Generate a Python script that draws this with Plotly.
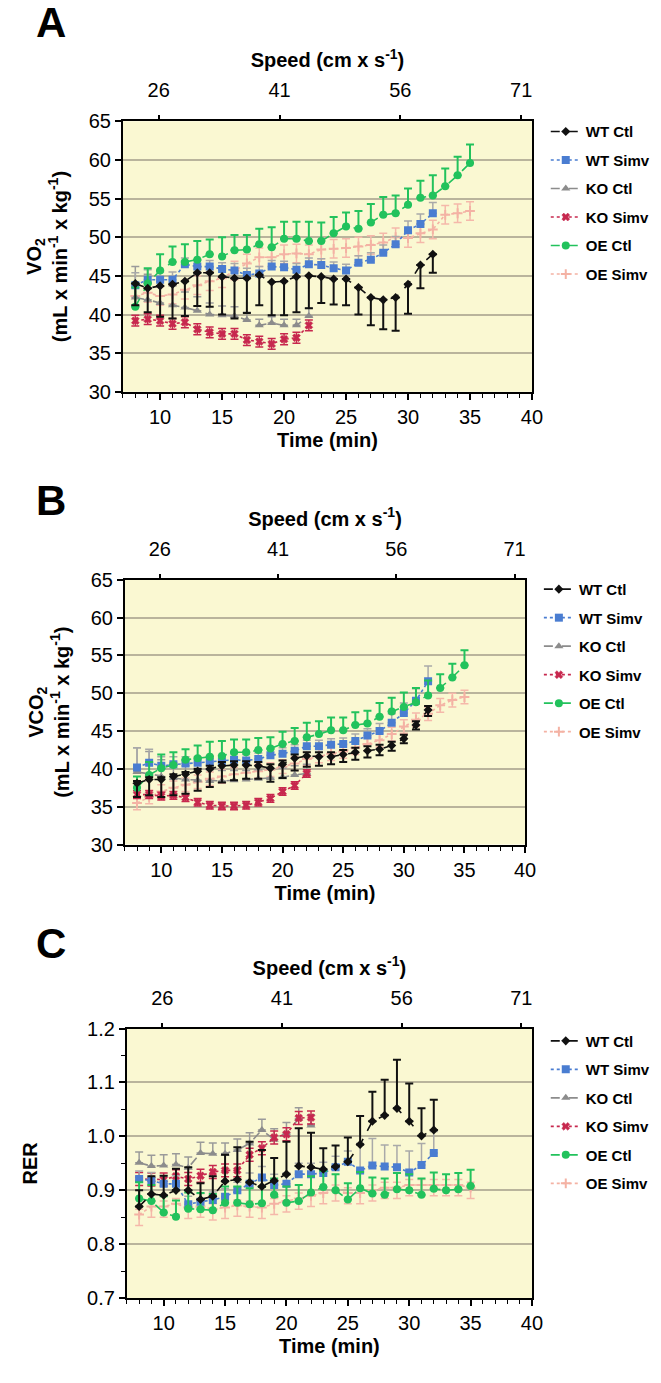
import plotly.graph_objects as go

# ---------------- data ----------------
T_WT = list(range(8, 33))      # WT Ctl / WT Simv : 8..32 min
T_KO = list(range(8, 23))      # KO Ctl / KO Simv : 8..22 min
T_OE = list(range(8, 36))      # OE Ctl / OE Simv : 8..35 min

TIME_TICKS = [10, 15, 20, 25, 30, 35, 40]
SPEED_TICKS = [26, 41, 56, 71]
SERIES = ["WT Ctl", "WT Simv", "KO Ctl", "KO Simv", "OE Ctl", "OE Simv"]

# Panel A : VO2
WT_CTL_A = [44.0, 43.4, 43.7, 43.9, 44.3, 45.4, 45.4, 44.9, 44.7, 44.7, 45.1, 44.2, 44.3, 44.9, 45.0,
            44.9, 44.6, 44.6, 43.5, 42.2, 41.9, 42.2, 43.9, 46.4, 47.8]
WT_CTL_A_LO = [2.8, 3.1, 4.0, 4.4, 4.5, 4.3, 4.4, 4.9, 5.2, 4.5, 3.9, 4.3, 4.4, 4.6, 4.2,
               3.4, 3.3, 3.4, 3.5, 3.6, 3.8, 4.3, 3.8, 3.0, 2.4]
WT_SIMV_A = [43.8, 44.5, 44.5, 44.5, 46.5, 46.2, 46.2, 45.9, 45.7, 45.1, 45.3, 46.2, 46.1, 45.8, 46.5,
             46.4, 46.0, 45.7, 46.7, 47.1, 48.0, 49.1, 50.9, 51.7, 53.1]
WT_SIMV_A_HI = [1.6, 1.3, 1.0, 1.0, 0.8, 0.8, 0.8, 0.8, 0.9, 0.9, 0.9, 0.8, 0.8, 0.8, 0.8,
                0.8, 0.8, 0.8, 0.9, 0.9, 1.0, 1.0, 1.2, 1.3, 1.4]
KO_CTL_A = [42.2, 41.9, 41.5, 41.2, 40.9, 40.5, 40.0, 39.9, 39.8, 39.3, 38.6, 38.9, 38.6, 38.6, 39.8]
KO_CTL_A_HI = [4.0, 3.3, 2.8, 2.5, 2.0, 1.8, 1.5, 1.2, 1.2, 1.0, 0.8, 0.8, 0.8, 0.8, 1.0]
KO_SIMV_A = [39.2, 39.4, 39.2, 38.8, 39.0, 38.1, 37.7, 37.5, 37.5, 36.7, 36.5, 36.2, 36.8, 37.0, 38.6]
KO_SIMV_A_ERR = [0.7, 0.7, 0.7, 0.7, 0.7, 0.7, 0.7, 0.7, 0.7, 0.7, 0.7, 0.7, 0.7, 0.7, 0.7]
OE_CTL_A = [41.0, 44.0, 45.7, 46.8, 46.8, 47.1, 47.8, 47.5, 48.3, 48.4, 49.1, 48.7, 49.8, 49.8, 49.5,
            49.5, 50.5, 51.4, 51.1, 51.9, 52.9, 53.1, 54.2, 55.1, 55.4, 56.6, 58.0, 59.6]
OE_CTL_A_HI = [2.5, 2.0, 2.1, 2.0, 2.3, 2.4, 1.9, 2.5, 2.0, 1.9, 2.0, 2.6, 2.2, 2.2, 2.5,
               2.4, 2.1, 1.8, 2.3, 2.4, 2.3, 2.3, 2.1, 2.2, 2.6, 2.3, 2.4, 2.4]
OE_SIMV_A = [42.4, 42.8, 42.4, 42.6, 43.2, 43.8, 44.3, 44.7, 45.7, 46.6, 47.4, 47.4, 47.8, 47.9, 47.8,
             48.4, 48.5, 48.6, 48.8, 49.0, 49.3, 50.0, 49.9, 50.5, 51.0, 52.9, 53.1, 53.4]
OE_SIMV_A_ERR = [1.2] * 28

# Panel B : VCO2
WT_CTL_B = [38.1, 38.6, 38.6, 39.0, 39.3, 39.7, 40.0, 40.4, 40.5, 40.5, 40.4, 40.1, 40.6, 41.4, 41.7,
            41.6, 41.6, 41.9, 42.2, 42.4, 42.6, 43.1, 44.0, 45.8, 47.8]
WT_CTL_B_LO = [1.8, 2.1, 2.3, 2.5, 2.6, 2.6, 2.4, 2.2, 2.0, 1.8, 1.7, 1.8, 1.8, 1.6, 1.4,
               1.2, 1.0, 1.0, 1.0, 0.9, 0.8, 0.7, 0.6, 0.6, 0.8]
WT_CTL_B_HI = [0.3, 0.3, 0.3, 0.3, 0.3, 0.3, 0.4, 0.5, 0.5, 0.5, 0.5, 0.5, 0.5, 0.5, 0.5,
               0.6, 0.6, 0.6, 0.6, 0.6, 0.6, 0.5, 0.5, 0.5, 0.5]
WT_SIMV_B = [40.2, 40.8, 40.4, 40.6, 40.7, 40.8, 40.9, 41.0, 41.2, 41.1, 41.3, 41.8, 42.0, 42.4, 43.0,
             43.0, 43.2, 43.3, 43.7, 44.4, 45.0, 46.1, 47.4, 49.0, 51.6]
WT_SIMV_B_HI = [2.6, 1.8, 1.2, 1.0, 0.9, 0.8, 0.8, 0.8, 0.8, 0.8, 0.8, 0.8, 0.8, 0.8, 0.8,
                0.8, 0.8, 0.8, 0.9, 0.9, 1.0, 1.2, 1.3, 1.6, 2.0]
KO_CTL_B = [39.6, 39.3, 39.0, 38.8, 38.6, 38.5, 38.4, 38.4, 38.5, 38.6, 38.7, 38.8, 38.9, 39.2, 39.4]
KO_CTL_B_HI = [3.2, 3.0, 2.2, 2.0, 1.8, 1.6, 1.5, 1.4, 1.3, 1.2, 1.2, 1.2, 1.2, 1.2, 1.2]
KO_SIMV_B = [36.6, 36.6, 36.4, 36.5, 36.2, 35.6, 35.2, 35.1, 35.1, 35.2, 35.6, 36.1, 37.0, 37.8, 39.4]
KO_SIMV_B_ERR = [0.5] * 15
OE_CTL_B = [37.5, 39.2, 40.1, 40.5, 41.2, 41.4, 41.6, 41.7, 42.2, 42.2, 42.5, 42.7, 43.3, 43.7, 44.2,
            44.6, 45.1, 45.1, 45.8, 46.0, 46.9, 47.6, 48.2, 48.8, 49.7, 50.7, 52.1, 53.7]
OE_CTL_B_HI = [1.5, 1.7, 1.8, 1.7, 1.4, 1.7, 2.0, 2.0, 1.7, 1.7, 1.6, 1.5, 1.6, 1.7, 1.9,
               1.7, 1.7, 1.7, 1.7, 1.7, 1.8, 1.8, 1.9, 1.9, 2.0, 1.8, 1.8, 2.0]
OE_SIMV_B = [35.5, 36.3, 37.0, 37.5, 37.9, 38.3, 38.7, 39.0, 39.3, 39.5, 39.7, 39.9, 40.3, 40.7, 41.3,
             41.7, 42.0, 42.3, 42.8, 43.3, 43.8, 44.6, 45.6, 46.5, 47.3, 48.4, 49.1, 49.5]
OE_SIMV_B_ERR = [0.9] * 28

# Panel C : RER
WT_CTL_C = [0.870, 0.893, 0.891, 0.900, 0.900, 0.883, 0.889, 0.917, 0.920, 0.915, 0.907, 0.918, 0.930,
            0.945, 0.943, 0.939, 0.944, 0.953, 0.985, 1.028, 1.039, 1.052, 1.028, 1.001, 1.012]
WT_CTL_C_HI = [0.030, 0.033, 0.036, 0.040, 0.043, 0.030, 0.037, 0.049, 0.060, 0.075, 0.068, 0.042, 0.060,
               0.070, 0.064, 0.039, 0.039, 0.045, 0.053, 0.055, 0.066, 0.090, 0.070, 0.051, 0.056]
WT_SIMV_C = [0.921, 0.918, 0.912, 0.912, 0.874, 0.879, 0.882, 0.888, 0.900, 0.912, 0.924, 0.910, 0.912,
             0.930, 0.930, 0.932, 0.943, 0.953, 0.937, 0.946, 0.944, 0.943, 0.933, 0.947, 0.969]
WT_SIMV_C_HI = [0.015, 0.015, 0.015, 0.015, 0.015, 0.015, 0.015, 0.015, 0.015, 0.020, 0.020, 0.020, 0.020,
                0.020, 0.020, 0.020, 0.020, 0.020, 0.050, 0.050, 0.040, 0.040, 0.040, 0.040, 0.040]
KO_CTL_C = [0.951, 0.945, 0.946, 0.948, 0.942, 0.969, 0.968, 0.968, 0.975, 0.987, 1.012, 0.994, 1.006,
            1.033, 1.020]
KO_CTL_C_HI = [0.020] * 15
KO_SIMV_C = [0.921, 0.920, 0.920, 0.926, 0.921, 0.927, 0.934, 0.937, 0.937, 0.966, 0.978, 0.998, 1.004,
             1.034, 1.035]
KO_SIMV_C_ERR = [0.012] * 15
OE_CTL_C = [0.885, 0.880, 0.859, 0.851, 0.866, 0.865, 0.863, 0.877, 0.877, 0.874, 0.876, 0.892, 0.877,
            0.880, 0.896, 0.906, 0.900, 0.883, 0.904, 0.894, 0.892, 0.902, 0.900, 0.892, 0.903, 0.900,
            0.902, 0.908]
OE_CTL_C_HI = [0.030] * 28
OE_SIMV_C = [0.855, 0.870, 0.870, 0.875, 0.868, 0.870, 0.865, 0.868, 0.872, 0.870, 0.868, 0.875, 0.880,
             0.885, 0.890, 0.895, 0.900, 0.895, 0.895, 0.900, 0.905, 0.905, 0.910, 0.910, 0.910, 0.910,
             0.910, 0.905]
OE_SIMV_C_LO = [0.020] * 28

# ---------------- styling ----------------
FONT = "Liberation Sans, Arial, sans-serif"
BG = "#FAF8D2"
GRID = "#B9B49C"
STYLE = {
    "WT Ctl":  dict(color="#111111", dash="dash", symbol="diamond", size=7, ecolor="#111111", ew=2.0),
    "WT Simv": dict(color="#4A7DD1", dash="dot", symbol="square", size=8, ecolor="#A9A9A9", ew=1.5),
    "KO Ctl":  dict(color="#8C8C8C", dash="dash", symbol="triangle-up", size=8, ecolor="#9A9A9A", ew=1.5),
    "KO Simv": dict(color="#C7284E", dash="dot", symbol="x", size=7, ecolor="#C7284E", ew=1.5),
    "OE Ctl":  dict(color="#22C25C", dash="dash", symbol="circle", size=8, ecolor="#22C25C", ew=2.0),
    "OE Simv": dict(color="#F4B2A4", dash="dot", symbol="cross-thin", size=7, ecolor="#F5B8AA", ew=1.5),
}
DRAW_ORDER = ["OE Simv", "KO Ctl", "KO Simv", "WT Simv", "OE Ctl", "WT Ctl"]

H = 1383.0
W = 661.0
# plot-area pixel boxes (left, right, top, bottom)
BOX = {
    "A": (125, 541, 112, 387),
    "B": (127, 534, 578, 847),
    "C": (129, 541, 1034, 1308),
}
LETTER_TOP = {"A": -14, "B": 472, "C": 922}
LEGEND_OFFSET = {"A": -6, "B": -7, "C": -4}
YTITLE_STANDOFF = {"A": 16, "B": 16, "C": 44}
SPEED_RANGE = [21.56, 72.34]

panels = {
    "A": dict(
        data={
            "WT Ctl": (T_WT, WT_CTL_A, [0] * 25, WT_CTL_A_LO),
            "WT Simv": (T_WT, WT_SIMV_A, WT_SIMV_A_HI, [0] * 25),
            "KO Ctl": (T_KO, KO_CTL_A, KO_CTL_A_HI, [0] * 15),
            "KO Simv": (T_KO, KO_SIMV_A, KO_SIMV_A_ERR, KO_SIMV_A_ERR),
            "OE Ctl": (T_OE, OE_CTL_A, OE_CTL_A_HI, [0] * 28),
            "OE Simv": (T_OE, OE_SIMV_A, OE_SIMV_A_ERR, OE_SIMV_A_ERR),
        },
        yrange=[30, 65], dtick=5, fmt="d",
        ytitle="<b>VO<sub>2</sub><br>(mL x min<sup>-1</sup> x kg<sup>-1</sup>)</b>"),
    "B": dict(
        data={
            "WT Ctl": (T_WT, WT_CTL_B, WT_CTL_B_HI, WT_CTL_B_LO),
            "WT Simv": (T_WT, WT_SIMV_B, WT_SIMV_B_HI, [0] * 25),
            "KO Ctl": (T_KO, KO_CTL_B, KO_CTL_B_HI, [0] * 15),
            "KO Simv": (T_KO, KO_SIMV_B, KO_SIMV_B_ERR, KO_SIMV_B_ERR),
            "OE Ctl": (T_OE, OE_CTL_B, OE_CTL_B_HI, [0] * 28),
            "OE Simv": (T_OE, OE_SIMV_B, OE_SIMV_B_ERR, OE_SIMV_B_ERR),
        },
        yrange=[30, 65], dtick=5, fmt="d",
        ytitle="<b>VCO<sub>2</sub><br>(mL x min<sup>-1</sup> x kg<sup>-1</sup>)</b>"),
    "C": dict(
        data={
            "WT Ctl": (T_WT, WT_CTL_C, WT_CTL_C_HI, [0] * 25),
            "WT Simv": (T_WT, WT_SIMV_C, WT_SIMV_C_HI, [0] * 25),
            "KO Ctl": (T_KO, KO_CTL_C, KO_CTL_C_HI, [0] * 15),
            "KO Simv": (T_KO, KO_SIMV_C, KO_SIMV_C_ERR, KO_SIMV_C_ERR),
            "OE Ctl": (T_OE, OE_CTL_C, OE_CTL_C_HI, [0] * 28),
            "OE Simv": (T_OE, OE_SIMV_C, [0.01] * 28, OE_SIMV_C_LO),
        },
        yrange=[0.7, 1.2], dtick=0.1, fmt=".1f",
        ytitle="<b>RER</b>"),
}

fig = go.Figure()
layout = dict(
    width=661, height=1383, margin=dict(l=0, r=0, t=0, b=0),
    paper_bgcolor="white", plot_bgcolor=BG,
    font=dict(family=FONT, color="black"),
    annotations=[],
)

tick_font = dict(family=FONT, size=20, color="black")
title_font = dict(family=FONT, size=20, color="black")

for i, key in enumerate(["A", "B", "C"]):
    p = panels[key]
    l, r, t, b = BOX[key]
    xd = [l / W, r / W]
    yd = [1 - b / H, 1 - t / H]
    xb = 2 * i + 1          # bottom time axis index
    xt = 2 * i + 2          # top speed axis index
    yi = i + 1
    xb_name = "x" if xb == 1 else f"x{xb}"
    xt_name = f"x{xt}"
    y_name = "y" if yi == 1 else f"y{yi}"
    leg_name = "legend" if i == 0 else f"legend{i + 1}"

    layout["xaxis" if xb == 1 else f"xaxis{xb}"] = dict(
        domain=xd, anchor=y_name, range=[7, 40], tick0=0, dtick=5,
        ticks="outside", ticklen=6, tickwidth=1.5, tickcolor="black",
        minor=dict(ticks="outside", ticklen=4, tickwidth=1.2, tickcolor="black", dtick=1, tick0=0),
        showline=True, linecolor="black", linewidth=2, showgrid=False, zeroline=False,
        tickfont=tick_font,
        title=dict(text="<b>Time (min)</b>", font=title_font, standoff=6),
    )
    layout[f"xaxis{xt}"] = dict(
        domain=xd, anchor=y_name, overlaying=xb_name, side="top", range=SPEED_RANGE,
        tickmode="array", tickvals=SPEED_TICKS, ticktext=[str(s) for s in SPEED_TICKS],
        ticks="outside", ticklen=4, tickwidth=1.5, tickcolor="black", ticklabelstandoff=10,
        showline=True, linecolor="black", linewidth=2, showgrid=False, zeroline=False,
        tickfont=tick_font,
        title=dict(text="<b>Speed (cm x s<sup>-1</sup>)</b>", font=title_font, standoff=6),
    )
    yax = dict(
        domain=yd, anchor=xb_name, range=p["yrange"], dtick=p["dtick"], tick0=0,
        tickformat=p["fmt"],
        ticks="outside", ticklen=6, tickwidth=1.5, tickcolor="black",
        showline=True, linecolor="black", linewidth=2, mirror=True,
        showgrid=True, gridcolor=GRID, gridwidth=1.5, zeroline=False,
        tickfont=tick_font,
        title=dict(text=p["ytitle"], font=title_font, standoff=YTITLE_STANDOFF[key]),
    )
    if key == "C":
        yax["minor"] = dict(ticks="outside", ticklen=4, tickwidth=1.2, tickcolor="black", dtick=0.05)
    layout["yaxis" if yi == 1 else f"yaxis{yi}"] = yax

    layout[leg_name] = dict(
        x=(r + 14) / W, y=1 - (t + LEGEND_OFFSET[key]) / H, xanchor="left", yanchor="top",
        font=dict(family=FONT, size=15, color="black"),
        bgcolor="rgba(0,0,0,0)", tracegroupgap=6, itemwidth=30,
    )

    # empty trace so the speed axis has a subplot to live on
    fig.add_trace(go.Scatter(x=[], y=[], xaxis=xt_name, yaxis=y_name, showlegend=False,
                             hoverinfo="skip"))

    for name in DRAW_ORDER:
        s = STYLE[name]
        xs, ys, hi, lo = p["data"][name]
        marker = dict(symbol=s["symbol"], size=s["size"], color=s["color"])
        if s["symbol"] in ("cross-thin",):
            marker["line"] = dict(color=s["color"], width=2)
        elif s["symbol"] == "x":
            marker["line"] = dict(color=s["color"], width=0.5)
        fig.add_trace(go.Scatter(
            x=xs, y=ys, mode="lines+markers", name=f"<b>{name}</b>",
            xaxis=xb_name, yaxis=y_name, legend=leg_name,
            legendgroup=f"{key}-{name}", legendrank=SERIES.index(name) + 1,
            line=dict(color=s["color"], dash=s["dash"], width=1.6),
            marker=marker,
            error_y=dict(type="data", symmetric=False, array=hi, arrayminus=lo,
                         color=s["ecolor"], thickness=s["ew"], width=4),
        ))

    layout["annotations"].append(dict(
        text=f"<b>{key}</b>", x=52 / W, y=1 - LETTER_TOP[key] / H, xref="paper", yref="paper",
        xanchor="center", yanchor="top", showarrow=False,
        font=dict(family=FONT, size=42, color="black"),
    ))

fig.update_layout(**layout)
fig.write_html("out.html")
